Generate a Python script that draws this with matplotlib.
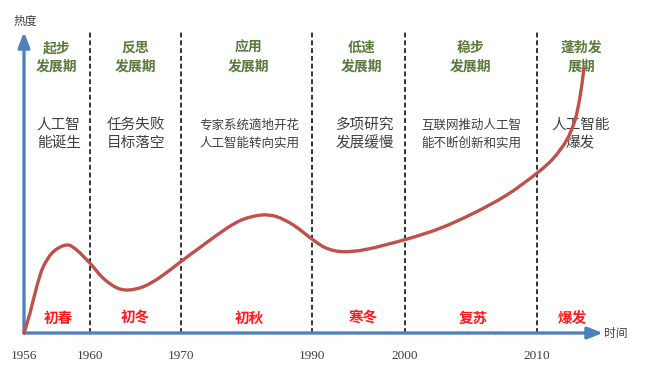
import numpy as np
import matplotlib
matplotlib.use("Agg")
import matplotlib.pyplot as plt
from matplotlib.path import Path
from matplotlib.patches import PathPatch

# ---------------- data ----------------
tick_years = [1956, 1960, 1970, 1990, 2000, 2010]
tick_labels = ["1956", "1960", "1970", "1990", "2000", "2010"]
boundary_years = [1960, 1970, 1990, 2000, 2010]

curve_years = [1956.0, 1956.36, 1956.77, 1957.17, 1957.78, 1958.59, 1959.19, 1960.0,
               1961.46, 1962.93, 1964.21, 1965.86, 1967.69, 1969.97, 1973.41, 1976.98,
               1979.51, 1982.32, 1984.61, 1987.15, 1990.14, 1991.58, 1993.36, 1995.88,
               2000.08, 2002.65, 2005.18, 2007.71, 2009.98, 2011.24, 2012.25, 2012.88,
               2013.26, 2013.51, 2013.56]
curve_heat = [0, 19.7, 46.3, 66.3, 81.3, 88, 83, 69.7,
              54.7, 45.3, 43, 46.3, 55.7, 71.3, 88, 104.7,
              113.7, 118, 116.3, 108, 93, 84.7, 81.3, 83.7,
              93.7, 104.7, 119.7, 138, 159.7, 174.7, 193, 213,
              236.3, 259.7, 265]

period_titles = [("起步", "发展期"), ("反思", "发展期"), ("应用", "发展期"),
                 ("低速", "发展期"), ("稳步", "发展期"), ("蓬勃发", "展期")]
period_desc = [("人工智", "能诞生"), ("任务失败", "目标落空"),
               ("专家系统適地开花", "人工智能转向实用"), ("多项研究", "发展缓慢"),
               ("互联网推动人工智", "能不断创新和实用"), ("人工智能", "爆发")]
season_labels = ["初春", "初冬", "初秋", "寒冬", "复苏", "爆发"]

# ---------------- layout ----------------
W, H = 651, 379
x0_px, y0_px = 24, 333      # origin in pixels
xr_px, yt_px = 603, 32      # arrow tips
tick_px = [0, 66, 157, 288, 381, 513]   # axis positions of tick years
px_per_year_end = 13.2

def pos(year):
    year = np.asarray(year, dtype=float)
    p = np.interp(year, tick_years, tick_px)
    return np.where(year > tick_years[-1],
                    tick_px[-1] + (year - tick_years[-1]) * px_per_year_end, p)

def ypx(py):
    return y0_px - py

title_x = [1958, 1965, 1980.3, 1995.3, 2005.0, 2013.4]
desc_x = [1958.1, 1965, 1980.5, 1995.7, 2005.0, 2013.3]
season_x = [1958.1, 1965, 1980.5, 1995.5, 2005.2, 2012.7]

blue = "#4f81bd"
red_line = "#c0504d"
green = "#5b7a3c"
gray = "#3f3f3f"
red_txt = "#ff1a1a"
cjk = ["Noto Sans CJK SC", "DejaVu Sans"]

fig = plt.figure(figsize=(W / 100, H / 100), dpi=100)
ax = fig.add_axes([x0_px / W, (H - y0_px) / H, (xr_px - x0_px) / W, (y0_px - yt_px) / H])
ax.set_xlim(0, xr_px - x0_px)
ax.set_ylim(0, y0_px - yt_px)
for s in ax.spines.values():
    s.set_visible(False)
ax.set_yticks([])
ax.set_xticks(pos(tick_years))
ax.set_xticklabels(tick_labels, family="Liberation Serif", fontsize=9.5, color=gray)
ax.tick_params(axis="x", length=0, pad=12)

# dashed period boundaries
ax.vlines(pos(boundary_years), 0, y0_px - yt_px, colors="#333333",
          linestyles=(0, (2.5, 1.5)), linewidth=1.4, zorder=1)

# axes arrows
for tip in [(1, 0), (0, 1)]:
    ax.annotate("", xy=tip, xytext=(0, 0), xycoords="axes fraction",
                arrowprops=dict(arrowstyle="-|>,head_length=0.9,head_width=0.35",
                                color=blue, lw=2.4, shrinkA=0, shrinkB=0),
                annotation_clip=False, zorder=3)

# smooth curve (Catmull-Rom as cubic Bezier path)
P = np.column_stack([pos(curve_years), curve_heat])
Pp = np.vstack([P[0], P, P[-1]])
verts = [P[0]]
codes = [Path.MOVETO]
for i in range(len(P) - 1):
    p0, p1, p2, p3 = Pp[i], Pp[i + 1], Pp[i + 2], Pp[i + 3]
    c1 = p1 + (p2 - p0) / 6.0
    c2 = p2 - (p3 - p1) / 6.0
    verts += [c1, c2, p2]
    codes += [Path.CURVE4] * 3
patch = PathPatch(Path(verts, codes), facecolor="none", edgecolor=red_line,
                  lw=2.4, capstyle="round", zorder=4, clip_on=False)
ax.add_patch(patch)

# texts
for xc, (l1, l2) in zip(title_x, period_titles):
    ax.text(pos(xc), ypx(48), l1, ha="center", va="center", family=cjk,
            fontsize=10, fontweight="bold", color=green)
    ax.text(pos(xc), ypx(67), l2, ha="center", va="center", family=cjk,
            fontsize=10, fontweight="bold", color=green)

for xc, (l1, l2) in zip(desc_x, period_desc):
    fs = 9 if len(l1) > 5 else 10.5
    ax.text(pos(xc), ypx(125), l1, ha="center", va="center", family=cjk,
            fontsize=fs, color=gray)
    ax.text(pos(xc), ypx(143), l2, ha="center", va="center", family=cjk,
            fontsize=fs, color=gray)

for xc, lab in zip(season_x, season_labels):
    ax.text(pos(xc), ypx(318), lab, ha="center", va="center", family=cjk,
            fontsize=10.5, fontweight="bold", color=red_txt)

ax.text(1, ypx(21), "热度", ha="center", va="center",
        family=cjk, fontsize=8.5, color=gray)
ax.text(616 - x0_px, ypx(334), "时间", ha="center", va="center",
        family=cjk, fontsize=8.5, color=gray)

fig.savefig("out.png", dpi=100)
